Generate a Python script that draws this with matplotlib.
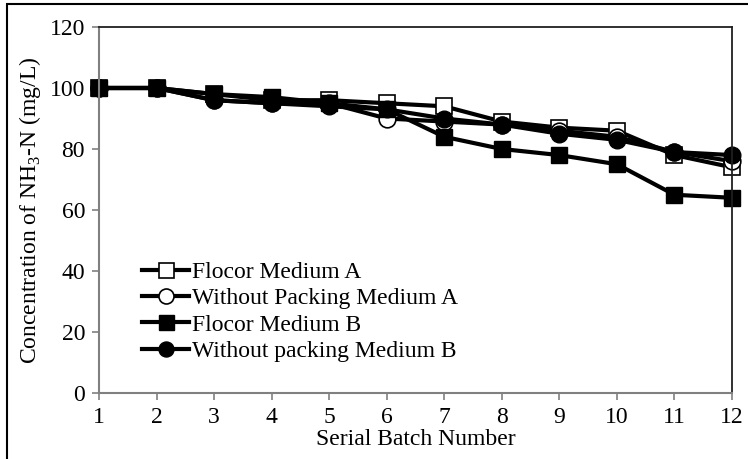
import matplotlib
matplotlib.use("Agg")
from matplotlib import pyplot as plt
from matplotlib.patches import Rectangle

plt.rcParams['font.family'] = ['Liberation Serif', 'DejaVu Serif']
plt.rcParams['mathtext.fontset'] = 'custom'
plt.rcParams['mathtext.rm'] = 'Liberation Serif'

# batch numbers and NH3-N concentrations
batch = [1, 2, 3, 4, 5, 6, 7, 8, 9, 10, 11, 12]
flocor_a = [100, 100, 98, 96, 96, 95, 94, 89, 87, 86, 78, 74]
without_a = [100, 100, 96, 95, 95, 90, 89, 88, 86, 84, 79, 76]
flocor_b = [100, 100, 98, 97, 95, 93, 84, 80, 78, 75, 65, 64]
without_b = [100, 100, 96, 95, 94, 93, 90, 88, 85, 83, 79, 78]

labels = ['Flocor Medium A', 'Without Packing Medium A',
          'Flocor Medium B', 'Without packing Medium B']

fs = 17
fig = plt.figure(figsize=(7.48, 4.59), dpi=100)
ax = fig.add_axes([99/748, 1 - 393/459, (732 - 99)/748, (393 - 27)/459])

lw = 3
ms = 12
ax.plot(batch, flocor_a, color='black', lw=lw, marker='s', ms=ms,
        mfc='white', mec='black', mew=1.2, label=labels[0], clip_on=False)
ax.plot(batch, without_a, color='black', lw=lw, marker='o', ms=ms,
        mfc='white', mec='black', mew=1.2, label=labels[1], clip_on=False)
ax.plot(batch, flocor_b, color='black', lw=lw, marker='s', ms=ms,
        mfc='black', mec='black', label=labels[2], clip_on=False)
ax.plot(batch, without_b, color='black', lw=lw, marker='o', ms=ms,
        mfc='black', mec='black', label=labels[3], clip_on=False)

ax.set_xlim(1, 12)
ax.set_ylim(0, 120)
ax.set_xticks(batch)
ax.set_yticks(range(0, 121, 20))
ax.tick_params(axis='both', direction='out', length=5, width=1.2,
               color='#808080', labelsize=fs, pad=5)

for side in ['left', 'bottom']:
    ax.spines[side].set_color('#808080')
    ax.spines[side].set_linewidth(1.5)
for side in ['top', 'right']:
    ax.spines[side].set_color('#202020')
    ax.spines[side].set_linewidth(1.3)

ax.set_xlabel('Serial Batch Number', fontsize=fs, labelpad=1)
ax.set_ylabel(r'Concentration of NH$_\mathrm{3}$-N (mg/L)', fontsize=fs, labelpad=5)

ax.legend(loc='lower left', bbox_to_anchor=(0.068, 0.085), frameon=False,
          fontsize=fs, handlelength=2.0, handletextpad=0.1,
          labelspacing=0.2, borderaxespad=0, borderpad=0, markerscale=0.9)

# outer frame around the chart (cropped at right and bottom)
fig.patches.append(Rectangle((7/748, -0.1), 1.2, 455/459 + 0.1,
                             transform=fig.transFigure, fill=False,
                             edgecolor='black', lw=1.5))

fig.savefig('out.png', dpi=100)
